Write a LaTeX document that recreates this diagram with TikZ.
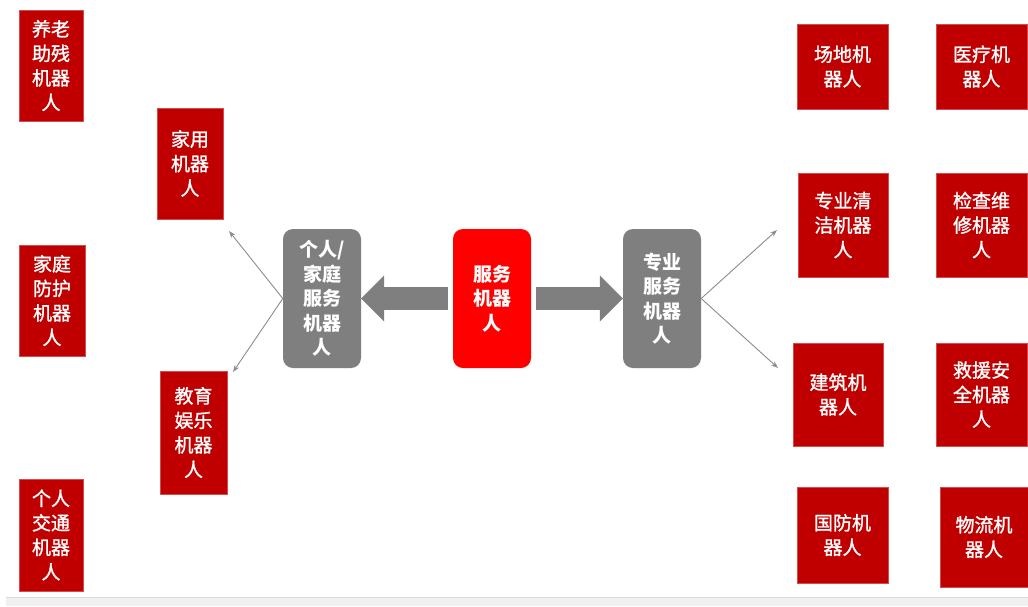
\documentclass[tikz,border=0pt]{standalone}
\usepackage{fontspec}
\setmainfont{Noto Sans CJK SC}
\newfontfamily\leaffont[FakeBold=1.2]{Noto Sans CJK SC}
\usetikzlibrary{arrows.meta}
\definecolor{boxred}{HTML}{C00000}
\definecolor{hubred}{HTML}{FF0000}
\definecolor{hubgray}{HTML}{7F7F7F}
\definecolor{thingray}{HTML}{8C8C8C}
\definecolor{stripgray}{HTML}{F0F0F0}
\definecolor{stripline}{HTML}{DADADA}
\tikzset{
  leaf/.style={fill=boxred, draw=boxred!70!white, line width=0.4pt, text=white,
    inner sep=0pt, align=center, font=\leaffont\fontsize{19}{24.5}\selectfont},
  hub/.style={rounded corners=10pt, text=white, inner sep=0pt, align=center,
    minimum width=78pt, minimum height=139pt,
    font=\bfseries\fontsize{19}{24.5}\selectfont},
  fatarrow/.style={draw=hubgray, line width=23pt,
    -{Triangle[length=23pt, width=46pt, line width=0pt]}},
  thinarrow/.style={draw=thingray, line width=0.9pt,
    -{Stealth[length=7pt, width=5pt]}},
}
\begin{document}
\begin{tikzpicture}[x=1pt, y=-1pt]
\useasboundingbox (0,0) rectangle (1028,606);
\fill[white] (0,0) rectangle (1028,606);
% footer strip
\fill[stripgray] (6,598) rectangle (1028,606);
\draw[stripline, line width=1pt] (6,597.5) -- (1028,597.5);

% central hubs
\node[hub, fill=hubgray] (personal) at (322,298.5) {个人/\\家庭\\服务\\机器\\人};
\node[hub, fill=hubred] (service) at (492,298.5) {服务\\机器\\人};
\node[hub, fill=hubgray] (profess) at (662,298.5) {专业\\服务\\机器\\人};

% thick arrows from the service hub
\draw[fatarrow, shorten <=5pt] (service.west) -- (personal.east);
\draw[fatarrow, shorten <=5pt] (service.east) -- (profess.west);

% personal / household categories
\node[leaf, minimum width=64pt, minimum height=111pt] (elder) at (51,65.5) {养老\\助残\\机器\\人};
\node[leaf, minimum width=66pt, minimum height=111pt] (guard) at (52,300.5) {家庭\\防护\\机器\\人};
\node[leaf, minimum width=64pt, minimum height=112pt] (trans) at (51,535) {个人\\交通\\机器\\人};
\node[leaf, minimum width=66pt, minimum height=111pt] (house) at (190,163.5) {家用\\机器\\人};
\node[leaf, minimum width=67pt, minimum height=123pt] (edu) at (193.5,432.5) {教育\\娱乐\\机器\\人};

% professional categories
\node[leaf, minimum width=91pt, minimum height=85pt] (field) at (842.5,66.5) {场地机\\器人};
\node[leaf, minimum width=91pt, minimum height=85pt] (medic) at (981.5,66.5) {医疗机\\器人};
\node[leaf, minimum width=90pt, minimum height=104pt] (clean) at (843,225) {专业清\\洁机器\\人};
\node[leaf, minimum width=91pt, minimum height=104pt] (inspect) at (981.5,225) {检查维\\修机器\\人};
\node[leaf, minimum width=90pt, minimum height=103pt] (build) at (838,394.5) {建筑机\\器人};
\node[leaf, minimum width=91pt, minimum height=103pt] (rescue) at (981.5,394.5) {救援安\\全机器\\人};
\node[leaf, minimum width=91pt, minimum height=96pt] (defense) at (842.5,535) {国防机\\器人};
\node[leaf, minimum width=88pt, minimum height=100pt] (logist) at (984,537) {物流机\\器人};

% free ends of the thin fan-out arrows
\coordinate (pUp) at (229,231);
\coordinate (pDown) at (233,372);
\coordinate (qUp) at (777,230);
\coordinate (qDown) at (778,368);
\draw[thinarrow] (personal.west) -- (pUp);
\draw[thinarrow] (personal.west) -- (pDown);
\draw[thinarrow] (profess.east) -- (qUp);
\draw[thinarrow] (profess.east) -- (qDown);
\end{tikzpicture}
\end{document}
